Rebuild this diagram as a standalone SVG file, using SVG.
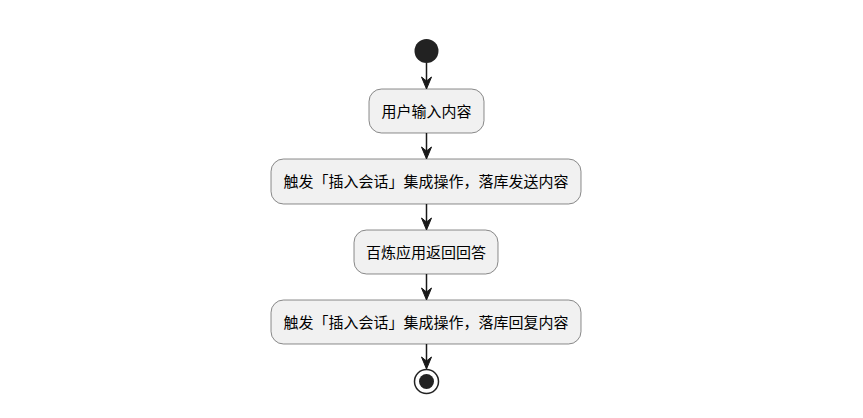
<svg xmlns="http://www.w3.org/2000/svg" width="863" height="418" viewBox="0 0 863 418">
<defs>
<style>
.box{fill:#F1F1F1;stroke:#181818;stroke-width:0.5;}
.t{font-family:"Liberation Sans","Noto Sans CJK SC",sans-serif;font-size:15px;fill:#000000;text-anchor:middle;}
.ln{stroke:#181818;stroke-width:1.5;fill:none;}
.ah{fill:#181818;stroke:#181818;stroke-width:1;}
</style>
</defs>
<rect width="863" height="418" fill="#FFFFFF"/>
<g id="start"><circle cx="426.5" cy="51" r="12" fill="#222222"/></g>
<g id="n1"><rect class="box" x="369" y="89" width="115" height="44" rx="12.5"/><text class="t" x="426.5" y="116.5">用户输入内容</text></g>
<g id="n2"><rect class="box" x="271" y="159" width="310" height="45" rx="12.5"/><text class="t" x="426" y="187">触发「插入会话」集成操作，落库发送内容</text></g>
<g id="n3"><rect class="box" x="354" y="230" width="144" height="44" rx="12.5"/><text class="t" x="426" y="257.5">百炼应用返回回答</text></g>
<g id="n4"><rect class="box" x="271" y="300" width="310" height="44" rx="12.5"/><text class="t" x="426" y="327.5">触发「插入会话」集成操作，落库回复内容</text></g>
<g id="end"><circle cx="426.5" cy="381.5" r="12" fill="none" stroke="#222222" stroke-width="1.5"/><circle cx="426.5" cy="381.5" r="7.5" fill="#222222"/></g>
<g id="connectors">
<line class="ln" x1="426.5" y1="63" x2="426.5" y2="84"/>
<polygon class="ah" points="421.5,77 426.5,89 431.5,77 426.5,81"/>
<line class="ln" x1="426.5" y1="133" x2="426.5" y2="154"/>
<polygon class="ah" points="421.5,147 426.5,159 431.5,147 426.5,151"/>
<line class="ln" x1="426.5" y1="204" x2="426.5" y2="225"/>
<polygon class="ah" points="421.5,218 426.5,230 431.5,218 426.5,222"/>
<line class="ln" x1="426.5" y1="274" x2="426.5" y2="295"/>
<polygon class="ah" points="421.5,288 426.5,300 431.5,288 426.5,292"/>
<line class="ln" x1="426.5" y1="344" x2="426.5" y2="364"/>
<polygon class="ah" points="421.5,357 426.5,369 431.5,357 426.5,361"/>
</g>
</svg>
